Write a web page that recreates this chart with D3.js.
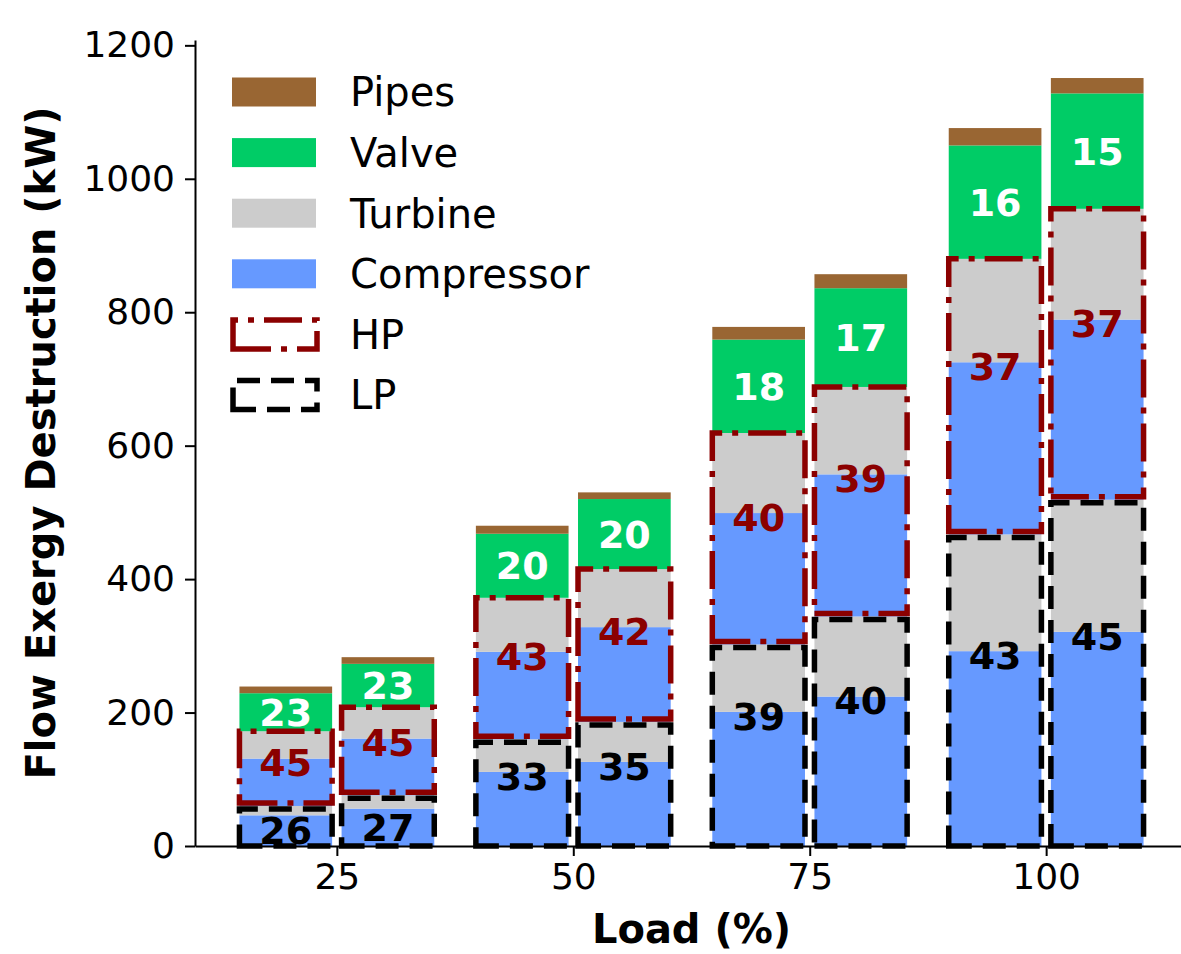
<!DOCTYPE html>
<html>
<head>
<meta charset="utf-8">
<script src="https://cdn.jsdelivr.net/npm/d3@7"></script>
<style>
  html, body { margin: 0; padding: 0; background: #fff; }
  text { font-family: "DejaVu Sans", sans-serif; }
</style>
</head>
<body>
<div id="chart"></div>
<script>
// load levels, two configurations per level
const loads = [25, 50, 75, 100];

// flow exergy destruction (kW), bars left to right
const lpCompressor = [46, 56, 111, 126, 201, 224, 292, 321];
const lpTurbine    = [14, 20, 49, 60, 101, 120, 175, 198];
const hpCompressor = [71, 85, 131, 142, 197, 213, 258, 270];
const hpTurbine    = [41, 47, 81, 87, 120, 131, 155, 166];
const valve        = [57, 65, 96, 105, 140, 148, 170, 173];
const pipes        = [10, 10, 12, 10, 19, 21, 26, 23];

// percentage labels
const lpShare    = [26, 27, 33, 35, 39, 40, 43, 45];
const hpShare    = [45, 45, 43, 42, 40, 39, 37, 37];
const valveShare = [23, 23, 20, 20, 18, 17, 16, 15];

const yTicks = [0, 200, 400, 600, 800, 1000, 1200];
const legendLabels = ["Pipes", "Valve", "Turbine", "Compressor", "HP", "LP"];

var colors = {
  compressor: "#6699ff",
  turbine: "#cccccc",
  valve: "#00cc66",
  pipes: "#996633",
  hp: "#8b0000",
  lp: "#000000"
};

var width = 1181, height = 954;
var barOffset = 5.4, barWidth = 9.8;

var rows = lpCompressor.map((v, i) => ({
  pos: loads[Math.floor(i / 2)] + (i % 2 ? barOffset : -barOffset),
  lpComp: v,
  lpTurb: lpTurbine[i],
  hpComp: hpCompressor[i],
  hpTurb: hpTurbine[i],
  valve: valve[i],
  pipes: pipes[i]
}));

var keys = ["lpComp", "lpTurb", "hpComp", "hpTurb", "valve", "pipes"];
var keyColor = {
  lpComp: colors.compressor, lpTurb: colors.turbine,
  hpComp: colors.compressor, hpTurb: colors.turbine,
  valve: colors.valve, pipes: colors.pipes
};
var stacked = d3.stack().keys(keys)(rows);

/* Scales */
var x = d3.scaleLinear().domain([10, 115]).range([195, 1188]);
var y = d3.scaleLinear().domain([0, 1208]).range([846, 40]);
var bw = x(barWidth) - x(0);

const svg = d3.select("#chart")
  .append("svg")
  .attr("width", width)
  .attr("height", height)
  .style("background", "#fff");

/* Stacked bars */
svg.append("g")
  .selectAll("g")
  .data(stacked)
  .enter()
  .append("g")
  .attr("fill", s => keyColor[s.key])
  .selectAll("rect")
  .data(s => s)
  .enter()
  .append("rect")
  .attr("x", d => x(d.data.pos) - bw / 2)
  .attr("width", bw)
  .attr("y", d => y(d[1]))
  .attr("height", d => y(d[0]) - y(d[1]));

/* LP / HP outline boxes */
function boxPath(x0, x1, yb, yt) {
  return `M${x0},${yb}L${x1},${yb}L${x1},${yt}L${x0},${yt}Z`;
}
var boxes = svg.append("g").attr("fill", "none").attr("stroke-width", 5.5);

rows.forEach(r => {
  var x0 = x(r.pos) - bw / 2, x1 = x(r.pos) + bw / 2;
  var lpTop = r.lpComp + r.lpTurb;
  var hpTop = lpTop + r.hpComp + r.hpTurb;
  boxes.append("path")
    .attr("d", boxPath(x0, x1, y(0), y(lpTop) + 3))
    .attr("stroke", colors.lp)
    .attr("stroke-dasharray", "23,11");
  boxes.append("path")
    .attr("d", boxPath(x0, x1, y(lpTop) - 3, y(hpTop)))
    .attr("stroke", colors.hp)
    .attr("stroke-dasharray", "38,10,6,10");
});

/* Percentage labels */
function labelY(base, top) {
  // centred on the compressor top, or inside it when the segment is short
  return (y(base) - y(top) < 40) ? y((base + top) / 2) : y(top) + 4;
}
var labels = svg.append("g")
  .attr("font-size", 38)
  .attr("font-weight", "bold")
  .attr("text-anchor", "middle");

rows.forEach((r, i) => {
  var lpTop = r.lpComp + r.lpTurb;
  var hpTop = lpTop + r.hpComp + r.hpTurb;
  labels.append("text")
    .attr("x", x(r.pos)).attr("y", labelY(0, r.lpComp)).attr("dy", "0.36em")
    .attr("fill", colors.lp).text(lpShare[i]);
  labels.append("text")
    .attr("x", x(r.pos)).attr("y", labelY(lpTop, lpTop + r.hpComp)).attr("dy", "0.36em")
    .attr("fill", colors.hp).text(hpShare[i]);
  labels.append("text")
    .attr("x", x(r.pos)).attr("y", y(hpTop + r.valve / 2)).attr("dy", "0.36em")
    .attr("fill", "#fff").text(valveShare[i]);
});

/* Axes */
var xAxis = d3.axisBottom(x).tickValues(loads).tickSize(10).tickSizeOuter(0).tickPadding(7);
var yAxis = d3.axisLeft(y).tickValues(yTicks).tickFormat(d3.format("d"))
  .tickSize(10).tickSizeOuter(0).tickPadding(10);

svg.append("g")
  .attr("transform", `translate(0, ${y(0)})`)
  .call(xAxis)
  .call(g => g.selectAll("path, line").attr("stroke", "#000").attr("stroke-width", 2))
  .call(g => g.selectAll("text").attr("font-size", 36).attr("fill", "#000")
    .attr("font-family", "DejaVu Sans"));

svg.append("g")
  .attr("transform", `translate(${x(10)}, 0)`)
  .call(yAxis)
  .call(g => g.selectAll("path, line").attr("stroke", "#000").attr("stroke-width", 2))
  .call(g => g.selectAll("text").attr("font-size", 36).attr("fill", "#000")
    .attr("font-family", "DejaVu Sans"));

svg.append("text")
  .attr("x", (x(10) + x(115)) / 2)
  .attr("y", 943)
  .attr("text-anchor", "middle")
  .attr("font-size", 40)
  .attr("font-weight", "bold")
  .text("Load (%)");

svg.append("text")
  .attr("transform", `translate(55, ${(y(0) + y(1208)) / 2}) rotate(-90)`)
  .attr("text-anchor", "middle")
  .attr("font-size", 40)
  .attr("font-weight", "bold")
  .text("Flow Exergy Destruction (kW)");

/* Legend */
var legendFill = [colors.pipes, colors.valve, colors.turbine, colors.compressor];
var legend = svg.append("g");
legendLabels.forEach((name, i) => {
  var cy = 92 + i * 60.6;
  if (i < 4) {
    legend.append("rect")
      .attr("x", 232).attr("y", cy - 14.5)
      .attr("width", 84).attr("height", 29)
      .attr("fill", legendFill[i]);
  } else {
    legend.append("path")
      .attr("d", boxPath(233, 317, cy + 14.5, cy - 14.5))
      .attr("fill", "none")
      .attr("stroke-width", 5.5)
      .attr("stroke", name === "HP" ? colors.hp : colors.lp)
      .attr("stroke-dasharray", name === "HP" ? "38,10,6,10" : "23,11");
  }
  legend.append("text")
    .attr("x", 350).attr("y", cy).attr("dy", "0.36em")
    .attr("font-size", 40)
    .text(name);
});
</script>
</body>
</html>
